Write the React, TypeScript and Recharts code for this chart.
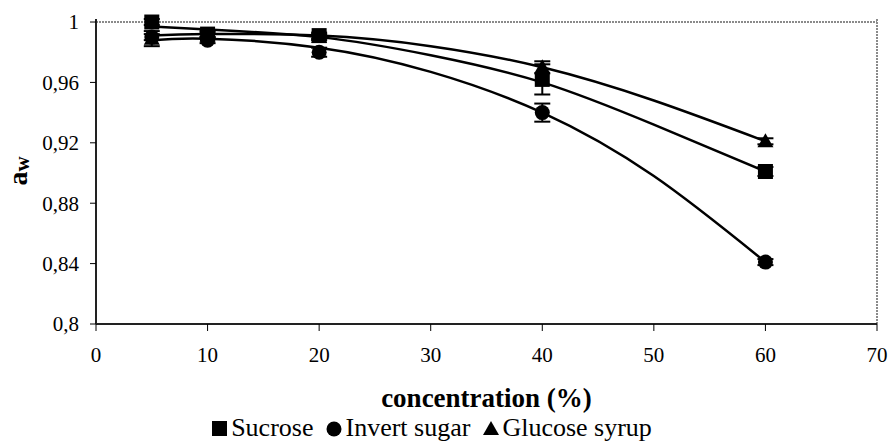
import React from 'react';
import {
  ComposedChart,
  Line,
  Scatter,
  ErrorBar,
  XAxis,
  YAxis,
  Legend,
  ReferenceLine,
} from 'recharts';

// measured points (concentration %, water activity)
const concentrations = [5, 10, 20, 40, 60];
const sucroseAw = [1.0, 0.992, 0.991, 0.962, 0.901];
const sucroseErr = [0.002, 0.002, 0.002, 0.01, 0.003];
const invertAw = [0.99, 0.988, 0.98, 0.94, 0.841];
const invertErr = [0.002, 0.002, 0.003, 0.006, 0.002];
const glucoseAw = [0.989, 0.991, 0.99, 0.97, 0.921];
const glucoseErr = [0.005, 0.002, 0.002, 0.004, 0.002];

// fitted trend curves
const trendX = [5, 10, 20, 30, 40, 50, 60];
const sucroseTrend = [0.997, 0.995, 0.99, 0.978, 0.96, 0.932, 0.901];
const invertTrend = [0.988, 0.989, 0.983, 0.967, 0.94, 0.898, 0.841];
const glucoseTrend = [0.991, 0.992, 0.991, 0.984, 0.97, 0.948, 0.921];

const seriesNames = ['Sucrose', 'Invert sugar', 'Glucose syrup'];
const xTicks = [0, 10, 20, 30, 40, 50, 60, 70];
const yTicks = [0.8, 0.84, 0.88, 0.92, 0.96, 1];

const FONT = '"Liberation Serif", "Times New Roman", "DejaVu Serif", serif';

const points = (ys: number[], errs: number[]) =>
  concentrations.map((x, i) => ({ x, y: ys[i], err: errs[i] }));
const trend = (ys: number[]) => trendX.map((x, i) => ({ x, y: ys[i] }));

const SquareDot = (props: any) => {
  const { cx, cy } = props;
  return <rect x={cx - 7.5} y={cy - 7.5} width={15} height={15} fill="#000" />;
};
const CircleDot = (props: any) => {
  const { cx, cy } = props;
  return <circle cx={cx} cy={cy} r={7.5} fill="#000" />;
};
const TriangleDot = (props: any) => {
  const { cx, cy } = props;
  return <polygon points={`${cx},${cy - 8} ${cx - 8},${cy + 6} ${cx + 8},${cy + 6}`} fill="#000" />;
};

const legendIcons = [
  <rect key="s" x={1} y={2} width={15} height={15} fill="#000" />,
  <circle key="c" cx={9} cy={10} r={7.5} fill="#000" />,
  <polygon key="t" points="9,2 1,16 17,16" fill="#000" />,
];

const renderLegend = () => (
  <div
    style={{
      display: 'flex',
      justifyContent: 'center',
      gap: 12,
      fontSize: 26,
      lineHeight: '34px',
      color: '#000',
      fontFamily: FONT,
      paddingRight: 14,
    }}
  >
    {seriesNames.map((name, i) => (
      <span key={name} style={{ display: 'inline-flex', alignItems: 'center' }}>
        <svg width={18} height={18} style={{ marginRight: 2 }}>
          {legendIcons[i]}
        </svg>
        {name}
      </span>
    ))}
  </div>
);

const YLabel = () => (
  <text
    x={27}
    y={171}
    transform="rotate(-90, 27, 171)"
    textAnchor="middle"
    fontWeight="bold"
    fontFamily={FONT}
    fill="#000"
  >
    <tspan fontSize={28}>a</tspan>
    <tspan fontSize={21} dy={2}>w</tspan>
  </text>
);

const fmt = (v: number) => String(v).replace('.', ',');

export default function App() {
  return (
    <div style={{ position: 'absolute', left: 0, top: 0, background: '#fff', fontFamily: FONT }}>
      <ComposedChart width={891} height={441} margin={{ top: 19, right: 14, left: 0, bottom: 0 }} style={{ fontFamily: FONT }}>
        <XAxis
          type="number"
          dataKey="x"
          domain={[0, 70]}
          ticks={xTicks}
          tickSize={7}
          tickMargin={16}
          height={87}
          tick={{ fill: '#000', fontSize: 21, fontFamily: FONT }}
          tickLine={{ stroke: '#000', strokeWidth: 1 }}
          axisLine={{ stroke: '#222', strokeWidth: 2 }}
          label={{ value: 'concentration (%)', position: 'insideBottom', offset: 4, fill: '#000', fontSize: 27, fontWeight: 'bold', fontFamily: FONT }}
        />
        <YAxis
          type="number"
          domain={[0.8, 1]}
          ticks={yTicks}
          tickFormatter={fmt}
          width={96}
          tickSize={6}
          tickMargin={11}
          tick={{ fill: '#000', fontSize: 21, fontFamily: FONT }}
          tickLine={{ stroke: '#000', strokeWidth: 1 }}
          axisLine={{ stroke: '#222', strokeWidth: 2 }}
          label={<YLabel />}
        />
        <ReferenceLine y={1} stroke="#8a8a8a" strokeWidth={2} strokeDasharray="2 1" />
        <ReferenceLine x={70} stroke="#8a8a8a" strokeWidth={2} strokeDasharray="2 1" />
        <Legend verticalAlign="bottom" height={30} content={renderLegend} />

        <Line data={trend(sucroseTrend)} dataKey="y" type="natural" stroke="#000" strokeWidth={2.5} dot={false} isAnimationActive={false} legendType="none" />
        <Line data={trend(invertTrend)} dataKey="y" type="natural" stroke="#000" strokeWidth={2.5} dot={false} isAnimationActive={false} legendType="none" />
        <Line data={trend(glucoseTrend)} dataKey="y" type="natural" stroke="#000" strokeWidth={2.5} dot={false} isAnimationActive={false} legendType="none" />

        <Scatter name={seriesNames[0]} data={points(sucroseAw, sucroseErr)} dataKey="y" shape={<SquareDot />} isAnimationActive={false}>
          <ErrorBar dataKey="err" direction="y" width={8} stroke="#000" strokeWidth={2} />
        </Scatter>
        <Scatter name={seriesNames[1]} data={points(invertAw, invertErr)} dataKey="y" shape={<CircleDot />} isAnimationActive={false}>
          <ErrorBar dataKey="err" direction="y" width={8} stroke="#000" strokeWidth={2} />
        </Scatter>
        <Scatter name={seriesNames[2]} data={points(glucoseAw, glucoseErr)} dataKey="y" shape={<TriangleDot />} isAnimationActive={false}>
          <ErrorBar dataKey="err" direction="y" width={8} stroke="#000" strokeWidth={2} />
        </Scatter>
      </ComposedChart>
    </div>
  );
}
